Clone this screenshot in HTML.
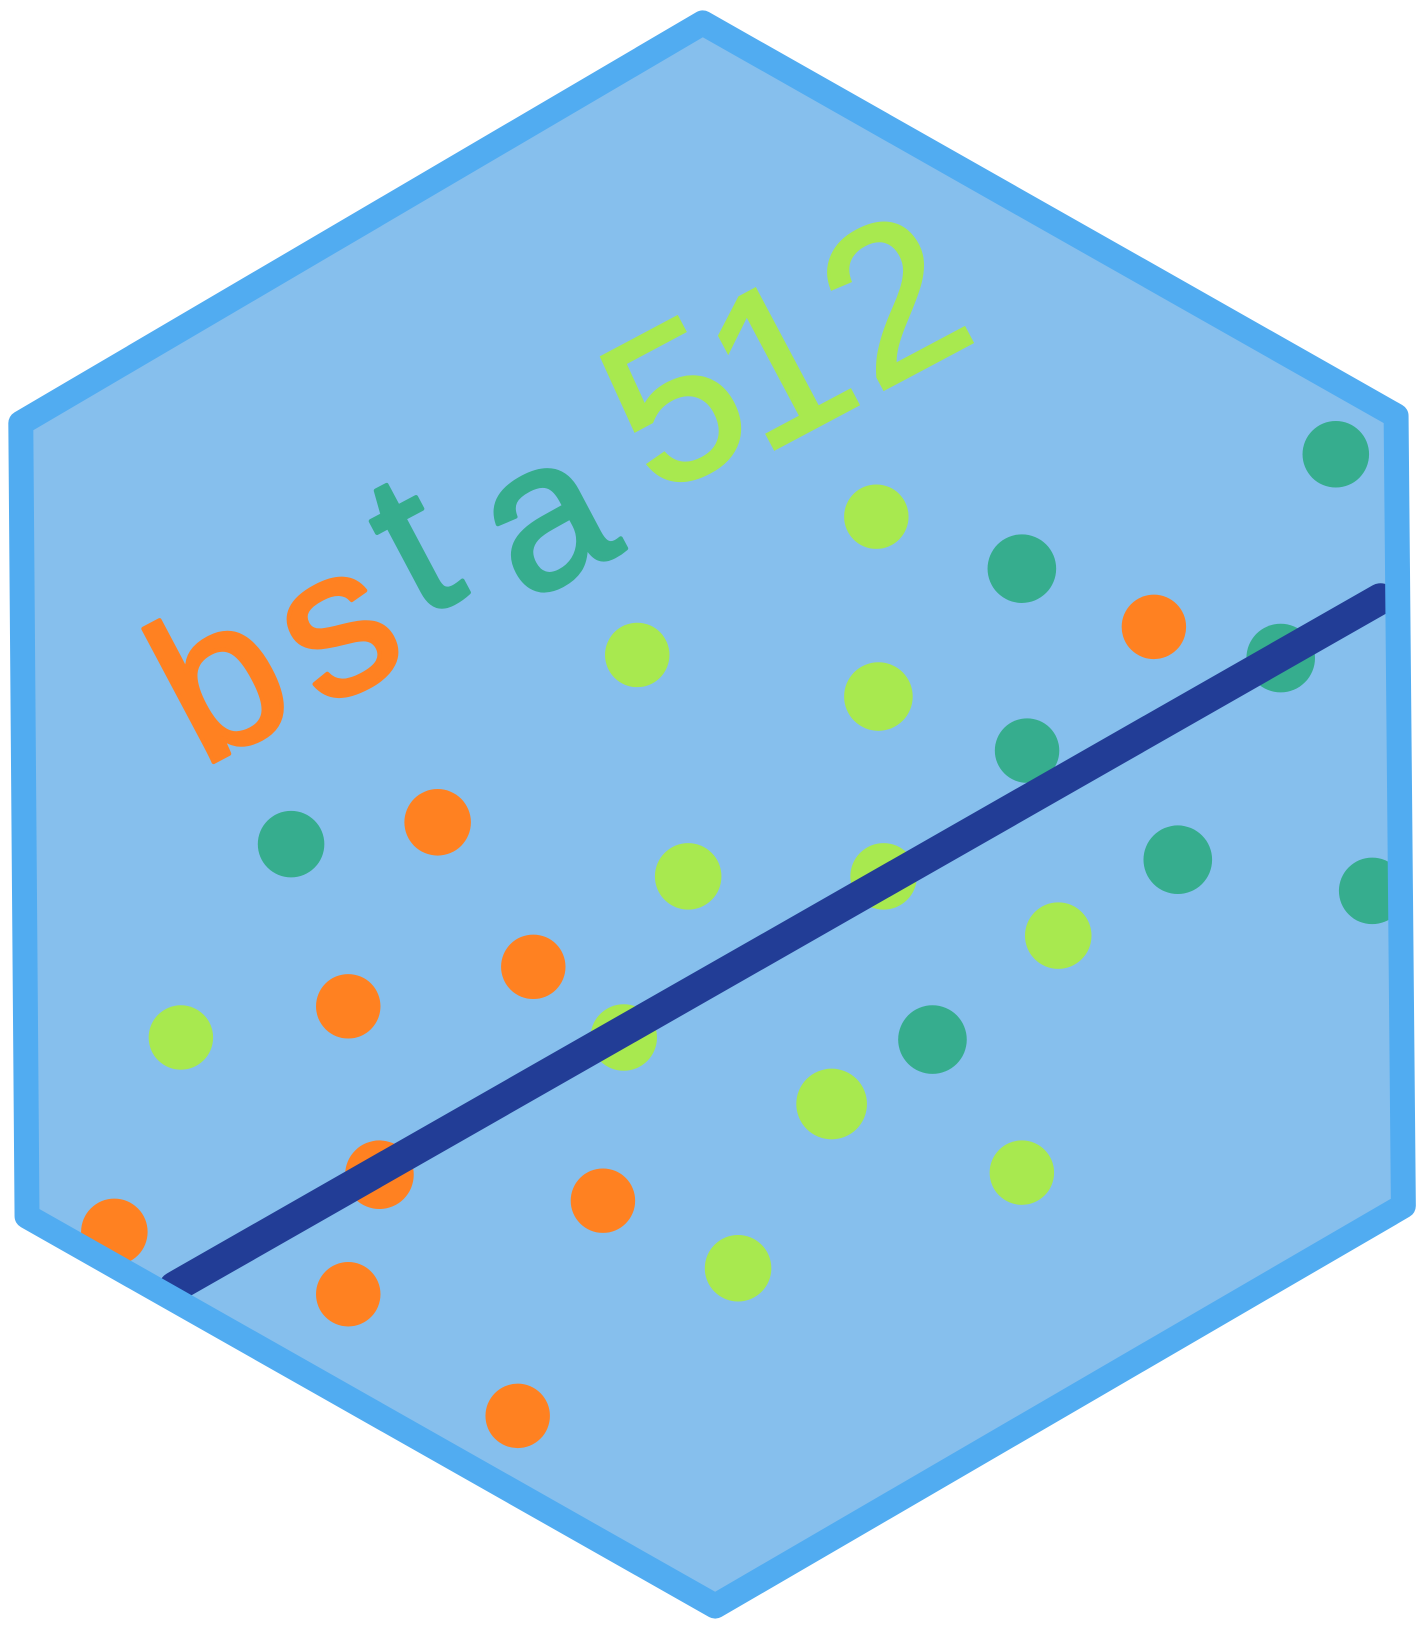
<!DOCTYPE html>
<html><head><meta charset="utf-8"><style>html,body{margin:0;padding:0;background:#fff}svg{display:block}</style></head>
<body>
<svg width="1420" height="1629" viewBox="0 0 1366 1567" preserveAspectRatio="none" xmlns="http://www.w3.org/2000/svg">
<polygon points="676,22 20,407 26,1170 688,1545 1350,1160 1343,400" fill="#86bfed"/>
<g fill="#a8e94f">
<circle cx="843" cy="497" r="31"/><circle cx="613" cy="630" r="31"/><circle cx="845" cy="670" r="33"/><circle cx="662" cy="843" r="32"/><circle cx="850" cy="843" r="32"/><circle cx="1018" cy="900" r="32"/><circle cx="174" cy="998" r="31"/><circle cx="600" cy="998" r="32"/><circle cx="800" cy="1062" r="34"/><circle cx="983" cy="1128" r="31"/><circle cx="710" cy="1220" r="32"/>
</g>
<g fill="#36ad8e">
<circle cx="1285" cy="437" r="32"/><circle cx="983" cy="547" r="33"/><circle cx="1232" cy="633" r="33"/><circle cx="988" cy="722" r="31"/><circle cx="280" cy="812" r="32"/><circle cx="1133" cy="827" r="33"/><circle cx="1320" cy="857" r="32"/><circle cx="897" cy="1000" r="33"/>
</g>
<g fill="#ff8121">
<circle cx="1110" cy="603" r="31"/><circle cx="421" cy="791" r="32"/><circle cx="513" cy="930" r="31"/><circle cx="335" cy="968" r="31"/><circle cx="365" cy="1130" r="33"/><circle cx="580" cy="1155" r="31"/><circle cx="110" cy="1185" r="32"/><circle cx="335" cy="1245" r="31"/><circle cx="498" cy="1362" r="31"/>
</g>
<line x1="168" y1="1238" x2="1328" y2="576" stroke="#223d96" stroke-width="30" stroke-linecap="round"/>
<polygon points="676,22 20,407 26,1170 688,1545 1350,1160 1343,400" fill="none" stroke="#51acf1" stroke-width="24" stroke-linejoin="round"/>
<g font-family="'Liberation Sans', sans-serif" font-size="200" stroke-width="4" stroke-linejoin="round">
<text x="215" y="720" text-anchor="middle" fill="#ff8121" stroke="#ff8121" transform="rotate(-28 215 660)">b</text>
<text x="330" y="665" text-anchor="middle" fill="#ff8121" stroke="#ff8121" transform="rotate(-28 330 615)">s</text>
<text x="400" y="590" text-anchor="middle" fill="#36ad8e" stroke="#36ad8e" transform="rotate(-28 400 530)">t</text>
<text x="530" y="560" text-anchor="middle" fill="#36ad8e" stroke="#36ad8e" transform="rotate(-28 530 510)">a</text>
</g>
<g font-family="'Liberation Sans', sans-serif" font-size="210" stroke-width="3" fill="#a8e94f" stroke="#a8e94f" text-anchor="middle">
<text x="650" y="460" transform="rotate(-28 650 390)">5</text>
<text x="750" y="420" transform="rotate(-28 750 350)">1</text>
<text x="860" y="360" transform="rotate(-28 860 290)">2</text>
</g>
</svg>
</body></html>
